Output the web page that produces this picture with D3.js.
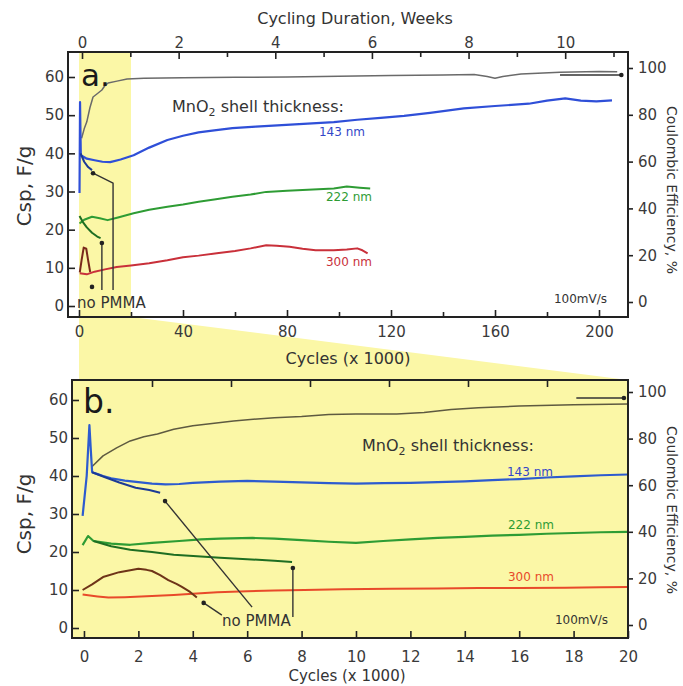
<!DOCTYPE html>
<html>
<head>
<meta charset="utf-8">
<script src="https://cdn.jsdelivr.net/npm/d3@7/dist/d3.min.js"></script>
<style>
  body { margin: 0; background: #fff; }
  text { font-family: "DejaVu Sans", sans-serif; fill: #333; }
  .tick line { stroke: #222; stroke-width: 1.6; }
</style>
</head>
<body>
<svg width="683" height="686"></svg>
<script>
// tick values
const weekTicks = [0, 2, 4, 6, 8, 10];
const weekMinor = [1, 3, 5, 7, 9, 11];
const cycleTicksA = [0, 40, 80, 120, 160, 200];
const cycleMinorA = [20, 60, 100, 140, 180];
const cycleTicksB = [0, 2, 4, 6, 8, 10, 12, 14, 16, 18, 20];
const topTicksB = [1, 2, 3, 4, 5, 6];
const cspTicks = [0, 10, 20, 30, 40, 50, 60];
const effTicks = [0, 20, 40, 60, 80, 100];

// panel a: [cycles x1000, Csp F/g] or [cycles x1000, efficiency %]
const blueA = [[0.2,29.6],[0.4,53.4],[0.7,39.5],[3,38.6],[6,38.2],[9,37.8],[12,37.7],[16,38.4],[21,39.5],[27,41.5],[34,43.5],[40,44.6],[46,45.5],[52,46.0],[59,46.6],[68,47.0],[78,47.4],[88,47.8],[98,48.2],[107,48.8],[116,49.3],[125,49.8],[135,50.6],[148,51.8],[160,52.4],[173,53.0],[180,53.8],[187,54.4],[193,53.8],[199,53.6],[205,53.9]];
const blueNoA = [[0.6,40],[2,37.8],[3.5,36.4],[5,35.6]];
const greenA = [[0.2,21.6],[2,22.6],[5,23.4],[8,23.0],[11,22.5],[15,23.2],[21,24.3],[27,25.2],[34,26],[40,26.6],[46,27.3],[52,27.9],[59,28.6],[66,29.2],[72,29.9],[80,30.2],[90,30.5],[98,30.8],[103,31.3],[108,31.0],[112,30.8]];
const greenNoA = [[0.2,23.6],[1.5,22],[3,20.6],[5,19.2],[7,18.2],[8.3,17.8]];
const redA = [[0.3,8.6],[3,8.3],[6,9.0],[10,9.6],[14.5,10.2],[20,10.6],[27,11.2],[34,12],[40,12.8],[46,13.2],[53,13.8],[60,14.4],[66,15.1],[72,15.9],[76,15.8],[81,15.5],[86,15.0],[91,14.6],[98,14.6],[103,14.8],[107,15.1],[109,14.6],[111,13.8]];
const redNoA = [[0.3,8.8],[1.0,12],[1.8,15.3],[2.8,15.0],[3.5,12],[4.3,8.9]];
const effA = [[1,70],[2,74],[3,77],[4.2,83],[5.4,87.6],[7,89],[8.8,90.6],[10,92.5],[11.2,93.6],[14.6,94.4],[18.5,95.3],[25,95.6],[40,95.8],[60,96],[80,96.2],[100,96.5],[120,96.8],[140,97],[152,97.2],[157,96.4],[160,95.6],[163,96.4],[170,97.4],[185,98.2],[200,98.5],[207,98.4]];

// panel b: first 20k cycles
const blueB = [[-0.05,29.5],[0.1,40],[0.2,53.4],[0.25,47],[0.3,41],[0.5,40.5],[0.7,40],[1,39.4],[1.5,38.8],[2,38.4],[2.5,38],[3,37.8],[3.5,37.9],[4,38.2],[5,38.5],[6,38.7],[7,38.5],[8,38.3],[9,38.1],[10,38.0],[11,38.1],[12,38.2],[13,38.4],[14,38.6],[15,38.9],[16,39.2],[17,39.6],[18,39.9],[19,40.2],[20,40.4]];
const blueNoB = [[0.3,41],[0.8,39.6],[1.3,38.3],[1.9,36.9],[2.4,36.3],[2.8,35.6]];
const greenB = [[-0.05,21.8],[0.15,24.2],[0.35,22.9],[1,22.2],[1.7,21.9],[2.5,22.4],[3.5,22.9],[4.3,23.3],[5,23.5],[6.2,23.7],[7,23.5],[8,23.1],[9,22.7],[10,22.4],[11,22.9],[12,23.3],[13,23.7],[14,24.0],[15,24.3],[16,24.5],[17,24.8],[18,25.0],[19,25.2],[20,25.3]];
const greenNoB = [[0.35,22.9],[1,21.5],[1.7,20.6],[2.5,20.0],[3.3,19.3],[4.3,18.8],[5,18.5],[6,18.1],[7,17.7],[7.65,17.4]];
const redB = [[-0.05,8.8],[0.5,8.3],[0.9,8.0],[1.5,8.1],[2.5,8.4],[3.3,8.7],[4,9.0],[4.9,9.4],[6,9.7],[7,9.9],[8.1,10.0],[9.5,10.2],[11.3,10.3],[13,10.4],[14.5,10.5],[16,10.5],[17.7,10.6],[19,10.7],[20,10.8]];
const brownB = [[-0.05,10],[0.3,11.5],[0.7,13.4],[1.3,14.7],[1.7,15.2],[2,15.6],[2.3,15.3],[2.5,15.0],[2.8,13.9],[3.1,12.6],[3.4,11.6],[3.6,10.8],[3.9,9.5],[4.15,8.0]];
const effB = [[0.3,68],[0.7,72.6],[1.2,76],[1.7,79],[2.2,80.8],[2.7,82],[3.3,84],[4,85.5],[5.5,87.6],[7,89],[8,89.5],[9,90.3],[10,90.6],[11.5,90.6],[12.5,91.2],[13.5,92.5],[14.5,93.2],[16,94],[18,94.5],[20,94.8]];

// "no PMMA" pointer lines, in data units
const leadersA = [[[8.8,16.5],[8.8,4.2]], [[5.4,34.8],[13.1,32.2],[13.1,4.2]]];
const dotsA = [[5,5.0],[8.8,16.5],[5.4,34.8]];
const leadersB = [[[2.98,33.4],[6.18,5.5]], [[4.4,6.6],[5.07,3.4]], [[7.68,15.8],[7.68,2.9]]];
const dotsB = [[2.98,33.4],[4.4,6.6],[7.68,15.8]];

const yellow = "#fbf7a6";
const svg = d3.select("svg");

// scales, panel a
const xA = d3.scaleLinear().domain([-4.23, 211.15]).range([68, 628]);
const wA = d3.scaleLinear().domain([-0.29, 11.3]).range([68, 628]);
const yA = d3.scaleLinear().domain([-2.88, 66.55]).range([317, 52]);
const eA = d3.scaleLinear().domain([-6.41, 106.84]).range([317, 52]);

// scales, panel b
const xB = d3.scaleLinear().domain([-0.44, 20]).range([72, 628]);
const tB = d3.scaleLinear().domain([0, 7]).range([73, 626]);
const yB = d3.scaleLinear().domain([-2.63, 65.26]).range([638, 380]);
const eB = d3.scaleLinear().domain([-5.58, 105.15]).range([638, 380]);

// yellow zoom wedge from panel a to panel b
svg.append("polygon")
    .attr("points", [[xA(0), 317], [xA(20), 317], [xB(20), 380], [xA(0), 380]].join(" "))
    .attr("fill", yellow);
svg.append("rect")
    .attr("x", xA(0)).attr("y", 52)
    .attr("width", xA(20) - xA(0)).attr("height", 265)
    .attr("fill", yellow);
svg.append("rect")
    .attr("x", 72).attr("y", 380)
    .attr("width", 556).attr("height", 258)
    .attr("fill", yellow);

function drawLine(x, y, data, color, w) {
    svg.append("path")
        .datum(data)
        .attr("fill", "none")
        .attr("stroke", color)
        .attr("stroke-width", w)
        .attr("stroke-linejoin", "round")
        .attr("d", d3.line().x(d => x(d[0])).y(d => y(d[1])));
}

function axis(gen, transform, ticks, size, pad, labels) {
    const g = svg.append("g")
        .attr("transform", transform)
        .call(gen.tickValues(ticks).tickSize(size).tickPadding(pad)
            .tickFormat(labels ? d3.format("d") : ""));
    g.select(".domain").remove();
    g.selectAll("text").style("font-size", "15px").style("fill", "#3a3a3a");
    return g;
}

// ---- panel a ----
drawLine(xA, eA, effA, "#6a6a6a", 1.5);
drawLine(xA, yA, redA, "#c9303a", 2);
drawLine(xA, yA, redNoA, "#7a2a1c", 2);
drawLine(xA, yA, greenA, "#2e9c34", 2);
drawLine(xA, yA, greenNoA, "#1e6e22", 2);
drawLine(xA, yA, blueA, "#2f4fd8", 2.2);
drawLine(xA, yA, blueNoA, "#1c3a96", 2);
leadersA.forEach(l => drawLine(xA, yA, l, "#333", 1.4));
svg.selectAll("circle.dotA").data(dotsA).enter().append("circle")
    .attr("cx", d => xA(d[0])).attr("cy", d => yA(d[1])).attr("r", 2.3).attr("fill", "#222");
drawLine(xA, eA, [[185, 97.0], [208.6, 97.0]], "#333", 1.6);
svg.append("circle").attr("cx", xA(208.6)).attr("cy", eA(97)).attr("r", 2.3).attr("fill", "#222");

axis(d3.axisLeft(yA), "translate(68,0)", cspTicks, -7, 4, true);
axis(d3.axisRight(eA), "translate(628,0)", effTicks, 5, 5, true);
axis(d3.axisBottom(xA), "translate(0,317)", cycleTicksA, -7, 9, true);
axis(d3.axisBottom(xA), "translate(0,317)", cycleMinorA, -5, 9, false);
axis(d3.axisTop(wA), "translate(0,52)", weekTicks, -7, 4, true);
axis(d3.axisTop(wA), "translate(0,52)", weekMinor, -5, 4, false);
svg.append("rect").attr("x", 68).attr("y", 52).attr("width", 560).attr("height", 265)
    .attr("fill", "none").attr("stroke", "#222").attr("stroke-width", 2);

// ---- panel b ----
drawLine(xB, eB, effB, "#5e5a40", 1.5);
drawLine(xB, yB, redB, "#e84a2a", 2);
drawLine(xB, yB, brownB, "#6e3418", 2);
drawLine(xB, yB, greenB, "#2e9c34", 2.2);
drawLine(xB, yB, greenNoB, "#1e6e22", 2);
drawLine(xB, yB, blueB, "#2d5bcf", 2.2);
drawLine(xB, yB, blueNoB, "#1c3a96", 2);
leadersB.forEach(l => drawLine(xB, yB, l, "#333", 1.4));
svg.selectAll("circle.dotB").data(dotsB).enter().append("circle")
    .attr("cx", d => xB(d[0])).attr("cy", d => yB(d[1])).attr("r", 2.3).attr("fill", "#222");
drawLine(xB, eB, [[18.1, 97.4], [19.85, 97.4]], "#333", 1.6);
svg.append("circle").attr("cx", xB(19.85)).attr("cy", eB(97.4)).attr("r", 2.3).attr("fill", "#222");

axis(d3.axisLeft(yB), "translate(72,0)", cspTicks, -7, 4, true);
axis(d3.axisRight(eB), "translate(628,0)", effTicks, 5, 5, true);
axis(d3.axisBottom(xB), "translate(0,638)", cycleTicksB, -7, 13, true);
axis(d3.axisTop(tB), "translate(0,380)", topTicksB, -7, 4, false);
svg.append("rect").attr("x", 72).attr("y", 380).attr("width", 556).attr("height", 258)
    .attr("fill", "none").attr("stroke", "#222").attr("stroke-width", 2);

// ---- texts ----
function label(x, y, str, size, color, anchor) {
    return svg.append("text").attr("x", x).attr("y", y)
        .attr("text-anchor", anchor || "start")
        .style("font-size", size + "px").style("fill", color || "#333")
        .text(str);
}
function mno2(x, y) {
    const t = svg.append("text").attr("x", x).attr("y", y).style("font-size", "16px");
    t.append("tspan").text("MnO");
    t.append("tspan").attr("dy", 4).style("font-size", "11px").text("2");
    t.append("tspan").attr("dy", -4).text(" shell thickness:");
}
function rotated(x, y, str, size, angle) {
    svg.append("text")
        .attr("transform", `translate(${x},${y}) rotate(${angle})`)
        .attr("text-anchor", "middle").attr("dy", "0.35em")
        .style("font-size", size + "px").style("fill", "#333")
        .text(str);
}

label(355, 24, "Cycling Duration, Weeks", 16, "#333", "middle");
label(348, 364, "Cycles (x 1000)", 16, "#333", "middle");
label(347, 681, "Cycles (x 1000)", 15, "#333", "middle");
rotated(24, 186, "Csp, F/g", 20, -90);
rotated(24, 514, "Csp, F/g", 20, -90);
rotated(672, 190, "Coulombic Efficiency, %", 14, 90);
rotated(672, 510, "Coulombic Efficiency, %", 14, 90);

label(81, 86, "a.", 31, "#1a1a1a");
label(83, 413, "b.", 33, "#1a1a1a");
mno2(172, 112);
mno2(362, 451);

label(365, 136, "143 nm", 12, "#3346c8", "end");
label(372, 201, "222 nm", 12, "#2e9c34", "end");
label(372, 266, "300 nm", 12, "#c9303a", "end");
label(607, 303, "100mV/s", 12, "#333", "end");
label(553, 476, "143 nm", 12, "#3346c8", "end");
label(554, 529, "222 nm", 12, "#2e9c34", "end");
label(554, 581, "300 nm", 12, "#e84a2a", "end");
label(608, 624, "100mV/s", 12, "#333", "end");

label(77, 308, "no PMMA", 15, "#333");
label(222, 626, "no PMMA", 15, "#333");
</script>
</body>
</html>
